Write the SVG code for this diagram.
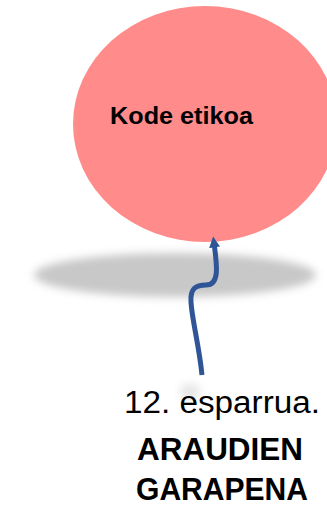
<svg xmlns="http://www.w3.org/2000/svg" width="327" height="510" viewBox="0 0 327 510">
<defs>
<filter id="blur" x="-20%" y="-100%" width="140%" height="300%"><feGaussianBlur stdDeviation="4"/></filter>
<filter id="blur2" x="-100%" y="-100%" width="300%" height="300%"><feGaussianBlur stdDeviation="5"/></filter>
<marker id="arr" viewBox="0 0 10 10" refX="4" refY="5" markerWidth="2.2" markerHeight="2.2" orient="auto-start-reverse" markerUnits="strokeWidth"><path d="M0,0 L10,5 L0,10 z" fill="#2F5597"/></marker>
</defs>
<style>
.lbl{font-family:"Liberation Sans",Arial,sans-serif;fill:#000}
.b{font-weight:bold}
</style>
<g id="shadow">
<ellipse cx="175" cy="275" rx="141" ry="22" fill="#c8c8c8" filter="url(#blur)"/>
<ellipse cx="190" cy="392" rx="10" ry="8" fill="#e4e4e4" filter="url(#blur2)"/>
</g>
<g id="balloon">
<ellipse cx="205" cy="124" rx="132" ry="118" fill="#FF8B8B"/>
<text class="lbl b" x="181.5" y="124" font-size="23" text-anchor="middle" textLength="143" lengthAdjust="spacingAndGlyphs">Kode etikoa</text>
</g>
<g id="connectors">
<path d="M202,375 C199,345 192,320 191,302 C190,288 196,285 206,285 C220,285 217,265 214,243" fill="none" stroke="#2F5597" stroke-width="5" stroke-linecap="butt" marker-end="url(#arr)"/>
</g>
<g id="label">
<text class="lbl" x="222" y="413" font-size="31" text-anchor="middle" textLength="196" lengthAdjust="spacingAndGlyphs">12. esparrua.</text>
<text class="lbl b" x="220" y="460" font-size="31" text-anchor="middle" textLength="166" lengthAdjust="spacingAndGlyphs">ARAUDIEN</text>
<text class="lbl b" x="222" y="500" font-size="31" text-anchor="middle" textLength="172" lengthAdjust="spacingAndGlyphs">GARAPENA</text>
</g>
</svg>
